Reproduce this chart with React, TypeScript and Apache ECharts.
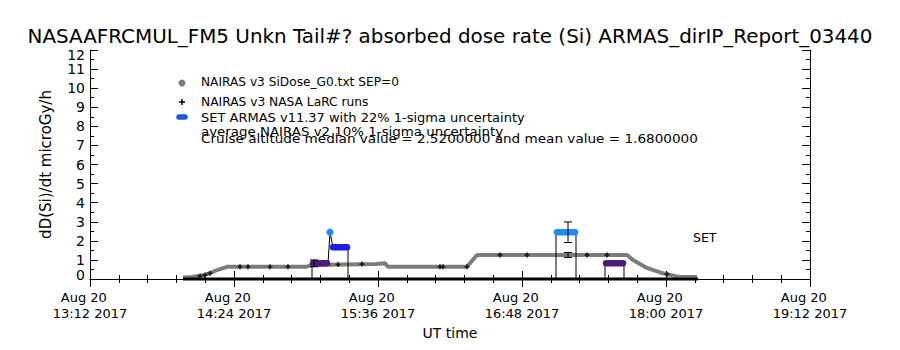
import React, { useEffect, useRef } from "react";
import * as echarts from "echarts";

// ---- data (times are UT on 2017-08-20) ----
const naTimes = ["13:58.5", "14:03", "14:08.5", "14:12", "14:15.5", "14:20.5", "15:00", "15:03", "15:35", "15:39.5", "15:41", "16:20.5", "16:25.5", "17:40.5", "17:43.5", "17:50.5", "17:58.5", "18:07", "18:15.5"];
const naDose = [0.08, 0.1, 0.2, 0.3, 0.47, 0.64, 0.64, 0.74, 0.78, 0.82, 0.64, 0.64, 1.26, 1.26, 1.0, 0.58, 0.3, 0.1, 0.1];

const larcTimes = ["14:07", "14:09.5", "14:12", "14:27", "14:31", "14:42", "14:51", "15:16", "15:28", "16:07", "16:08.5", "16:20.5", "16:37", "16:50.5", "17:20.5", "17:30.5", "18:00.5"];
const larcDose = [0.15, 0.2, 0.3, 0.64, 0.64, 0.64, 0.64, 0.76, 0.78, 0.64, 0.64, 0.64, 1.26, 1.26, 1.26, 1.26, 0.25];

const armasStart = ["15:03.5", "15:12", "15:13.5", "17:05.5", "17:30"];
const armasEnd = ["15:10.5", "15:12", "15:20.5", "17:14.5", "17:38.5"];
const armasDose = [0.82, 2.45, 1.66, 2.45, 0.82];
const armasBin = [0, 2, 1, 2, 0];

const armasLineTimes = ["15:03", "15:03", "15:11", "15:12", "15:13.5", "15:21", "15:21", "17:05", "17:05", "17:15", "17:15", "17:29.5", "17:29.5", "17:39", "17:39"];
const armasLineDose = [0, 0.82, 0.82, 2.45, 1.66, 1.66, 0, 0, 2.45, 2.45, 0, 0, 0.82, 0.82, 0];

const baseTimes = ["13:58.5", "18:16"];
const baseDose = [0, 0];

const errTimes = ["15:04", "17:11", "17:11"];
const errLow = [0.64, 1.91, 1.13];
const errHigh = [1.0, 2.99, 1.39];

const yTicks = [0, 1, 2, 3, 4, 5, 6, 7, 8, 9, 10, 11, 12];
const xStart = "13:12";
const xEnd = "19:12";
const xStep = 72;

const titleText = "NASAAFRCMUL_FM5 Unkn Tail#? absorbed dose rate (Si) ARMAS_dirIP_Report_03440";
const yName = "dD(Si)/dt microGy/h";
const xName = "UT time";
const legendLines = [
  "NAIRAS v3 SiDose_G0.txt SEP=0",
  "NAIRAS v3 NASA LaRC runs",
  "SET ARMAS v11.37 with 22% 1-sigma uncertainty",
  "average NAIRAS v2 10% 1-sigma uncertainty",
  "Cruise altitude median value = 2.5200000 and mean value = 1.6800000",
];

const armasPalette = ["#4b1a7c", "#1c1cf0", "#1e8cf0"];
const FONT = "DejaVu Sans";

const toMin = (s: string) => {
  const [h, m] = s.split(":");
  return Number(h) * 60 + Number(m);
};
const fmtTime = (v: number) => {
  const h = Math.floor(v / 60);
  const m = Math.round(v - h * 60);
  return `${h}:${m < 10 ? "0" + m : m}`;
};

const plusSymbol = "path://M2,0h2v2h2v2h-2v2h-2v-2h-2v-2h2z";

export default function App() {
  const ref = useRef<HTMLDivElement>(null);
  useEffect(() => {
    if (!ref.current) return;
    const chart = echarts.init(ref.current, null, { renderer: "svg" });
    const xmin = toMin(xStart);
    const xmax = toMin(xEnd);
    const ymin = yTicks[0];
    const ymax = yTicks[yTicks.length - 1];
    const axisCommon = {
      axisLine: { show: true, lineStyle: { color: "#000", width: 1 } },
      splitLine: { show: false },
    };
    const lblStyle = { color: "#000", fontFamily: FONT, fontSize: 14, lineHeight: 14 };
    const legendScale = [0.975, 0.98, 1.04, 1.07, 1.087];
    const legendY = [82, 101.5, 118, 131.5, 138.5];
    const option: any = {
      animation: false,
      backgroundColor: "#fff",
      grid: { left: 90, right: 90, top: 50, bottom: 71, containLabel: false, outerBoundsMode: "none" },
      xAxis: [
        {
          type: "value",
          min: xmin,
          max: xmax,
          interval: xStep,
          position: "bottom",
          ...axisCommon,
          axisTick: { show: true, inside: true, length: 8, lineStyle: { color: "#000" } },
          minorTick: { show: true, splitNumber: 5, length: 4, lineStyle: { color: "#000" } },
          axisLabel: {
            color: "#000",
            fontFamily: FONT,
            fontSize: 13,
            lineHeight: 16,
            margin: 10,
            showMinLabel: true,
            showMaxLabel: true,
            formatter: (v: number) => `Aug 20   \n${fmtTime(v)} 2017`,
          },
          name: xName,
          nameLocation: "middle",
          nameGap: 46,
          nameTextStyle: { color: "#000", fontFamily: FONT, fontSize: 14 },
        },
        {
          type: "value",
          min: xmin,
          max: xmax,
          interval: xStep,
          position: "top",
          ...axisCommon,
          axisTick: { show: true, inside: true, length: 8, lineStyle: { color: "#000" } },
          minorTick: { show: true, splitNumber: 5, length: 4, lineStyle: { color: "#000" } },
          axisLabel: { show: false },
        },
      ],
      yAxis: [
        {
          type: "value",
          min: ymin,
          max: ymax,
          interval: 1,
          position: "left",
          ...axisCommon,
          axisTick: { show: true, inside: true, length: 8, lineStyle: { color: "#000" } },
          minorTick: { show: true, splitNumber: 2, length: 4, lineStyle: { color: "#000" } },
          axisLabel: {
            ...lblStyle,
            margin: 5,
            showMinLabel: true,
            showMaxLabel: true,
            hideOverlap: false,
            formatter: (v: number) => (v === ymax ? `{t|${v}}` : v === ymin ? `{b|${v}}` : `${v}`),
            rich: {
              t: { ...lblStyle, padding: [9, 0, 0, 0] },
              b: { ...lblStyle, padding: [0, 0, 9, 0] },
            },
          },
          name: yName,
          nameLocation: "middle",
          nameRotate: 90,
          nameGap: 37,
          nameTextStyle: { color: "#000", fontFamily: FONT, fontSize: 15 },
        },
        {
          type: "value",
          min: ymin,
          max: ymax,
          interval: 1,
          position: "right",
          ...axisCommon,
          axisTick: { show: true, inside: true, length: 8, lineStyle: { color: "#000" } },
          minorTick: { show: true, splitNumber: 2, length: 4, lineStyle: { color: "#000" } },
          axisLabel: { show: false },
        },
      ],
      series: [
        {
          name: legendLines[0],
          type: "line",
          data: naTimes.map((t, i) => [toMin(t), naDose[i]]),
          showSymbol: false,
          lineStyle: { color: "#7c7c7c", width: 4 },
          z: 2,
        },
        {
          name: legendLines[1],
          type: "scatter",
          data: larcTimes.map((t, i) => [toMin(t), larcDose[i]]),
          symbol: plusSymbol,
          symbolSize: 5,
          itemStyle: { color: "#000" },
          z: 3,
        },
        {
          name: "ARMAS trace",
          type: "line",
          data: armasLineTimes.map((t, i) => [toMin(t), armasLineDose[i]]),
          showSymbol: false,
          lineStyle: { color: "#000", width: 1 },
          z: 4,
        },
        {
          name: "ARMAS base",
          type: "line",
          data: baseTimes.map((t, i) => [toMin(t), baseDose[i]]),
          showSymbol: false,
          clip: false,
          lineStyle: { color: "#000", width: 3 },
          z: 4,
        },
        {
          name: legendLines[2],
          type: "custom",
          data: armasStart.map((s, i) => [toMin(s), toMin(armasEnd[i]), armasDose[i], armasBin[i]]),
          encode: { x: [0, 1], y: 2 },
          z: 5,
          renderItem: (_p: any, api: any) => {
            const s = api.value(0);
            const e = api.value(1);
            const v = api.value(2);
            const color = armasPalette[api.value(3)];
            const p1 = api.coord([s, v]);
            const p2 = api.coord([e, v]);
            if (s === e) {
              return { type: "circle", shape: { cx: p1[0], cy: p1[1], r: 3.6 }, style: { fill: color } };
            }
            return {
              type: "line",
              shape: { x1: p1[0], y1: p1[1], x2: p2[0], y2: p2[1] },
              style: { stroke: color, lineWidth: 6.5, lineCap: "round" },
            };
          },
        },
        {
          name: "uncertainty",
          type: "custom",
          data: errTimes.map((t, i) => [toMin(t), errLow[i], errHigh[i]]),
          encode: { x: 0, y: [1, 2] },
          z: 6,
          renderItem: (_p: any, api: any) => {
            const t = api.value(0);
            const a = api.coord([t, api.value(1)]);
            const b = api.coord([t, api.value(2)]);
            const st = { stroke: "#000", lineWidth: 1 };
            return {
              type: "group",
              children: [
                { type: "line", shape: { x1: a[0], y1: a[1], x2: b[0], y2: b[1] }, style: st },
                { type: "line", shape: { x1: a[0] - 4, y1: a[1], x2: a[0] + 4, y2: a[1] }, style: st },
                { type: "line", shape: { x1: b[0] - 4, y1: b[1], x2: b[0] + 4, y2: b[1] }, style: st },
              ],
            };
          },
        },
      ],
      graphic: [
        {
          type: "text",
          x: 450,
          y: 36,
          style: { text: titleText, fill: "#000", font: `19.9px '${FONT}'`, textAlign: "center", textVerticalAlign: "middle" },
        },
        { type: "circle", shape: { cx: 182, cy: 83, r: 3.5 }, style: { fill: "#7c7c7c" } },
        { type: "line", shape: { x1: 179, y1: 102, x2: 185, y2: 102 }, style: { stroke: "#000", lineWidth: 1.5 } },
        { type: "line", shape: { x1: 182, y1: 99, x2: 182, y2: 105 }, style: { stroke: "#000", lineWidth: 1.5 } },
        { type: "line", shape: { x1: 179, y1: 117, x2: 185, y2: 117 }, style: { stroke: "#1a55e8", lineWidth: 5.5, lineCap: "round" } },
        ...legendY.map((yy, i) => ({
          type: "text",
          x: 201,
          y: yy,
          scaleX: legendScale[i],
          style: { text: legendLines[i], fill: "#000", font: `12.5px '${FONT}'`, textVerticalAlign: "middle" },
        })),
        {
          type: "text",
          x: 693,
          y: 237,
          style: { text: "SET", fill: "#000", font: `12.5px '${FONT}'`, textVerticalAlign: "middle" },
        },
      ],
    };
    chart.setOption(option);
    return () => chart.dispose();
  }, []);
  return (
    <div
      ref={ref}
      style={{ position: "fixed", left: 0, top: 0, width: 900, height: 350, background: "#fff" }}
    />
  );
}
